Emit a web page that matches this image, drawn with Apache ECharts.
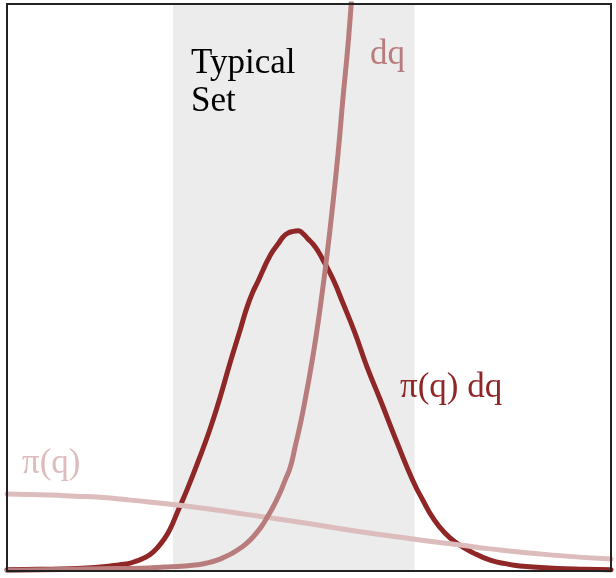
<!DOCTYPE html>
<html>
<head>
<meta charset="utf-8">
<script src="https://cdn.jsdelivr.net/npm/echarts@6/dist/echarts.min.js"></script>
<style>
html,body{margin:0;padding:0;background:#fff;}
#chart{width:616px;height:578px;}
</style>
</head>
<body>
<div id="chart"></div>
<script>
// q positions (arbitrary units 0..100) and densities (arbitrary units 0..100)
var piQ      = [0, 7.1, 11.3, 15.4, 20.4, 28.6, 40.2, 48.5, 56.8, 67.5, 75.0, 80.0, 90.4, 100];
var piVals   = [13.6, 13.4, 13.2, 13.0, 12.5, 11.6, 9.9, 8.6, 7.2, 5.6, 4.6, 3.9, 2.8, 2.1];

var dqQ      = [0, 15.4, 22.0, 26.2, 29.5, 31.5, 33.1, 34.8, 36.1, 37.4, 38.6, 39.7, 40.9, 42.1, 43.2, 44.2, 45.2, 46.0, 46.9, 47.7, 48.7, 49.5, 50.2, 51.2, 52.2, 53.0, 53.8, 54.8, 55.6, 56.5, 57.1];
var dqVals   = [0.1, 0.4, 0.5, 0.7, 0.9, 1.1, 1.4, 1.9, 2.5, 3.2, 4.0, 4.9, 6.2, 7.8, 9.7, 11.6, 13.8, 15.9, 18.3, 21.9, 26.6, 31.0, 35.1, 41.6, 49.2, 55.9, 63.3, 73.5, 83.1, 93.3, 101.8];

var prodQ    = [0, 5.5, 10.4, 15.4, 17.1, 18.7, 20.4, 21.5, 22.5, 23.7, 24.8, 26.0, 27.0, 28.3, 29.8, 31.6, 33.6, 35.3, 36.9, 38.6, 39.7, 40.7, 41.6, 42.4, 43.2, 44.0, 44.9, 45.7, 46.5, 47.4, 48.2, 49.0, 49.8, 50.7, 51.5, 52.3, 54.0, 55.6, 57.6, 59.6, 61.8, 64.6, 67.2, 68.9, 70.5, 72.5, 74.5, 77.2, 80.0, 82.5, 84.9, 90.4, 95.7, 100];
var prodVals = [0.2, 0.3, 0.4, 0.7, 0.9, 1.1, 1.4, 1.8, 2.2, 2.9, 4.0, 5.6, 7.4, 10.6, 14.3, 19.2, 25.0, 30.7, 36.6, 42.5, 46.4, 49.2, 51.2, 53.1, 54.9, 56.4, 57.7, 58.9, 59.6, 59.9, 60.0, 59.5, 58.6, 57.6, 56.4, 54.9, 51.4, 47.3, 42.0, 36.0, 30.2, 22.6, 15.9, 12.4, 9.4, 6.7, 4.9, 3.2, 1.9, 1.3, 0.9, 0.5, 0.3, 0.2];

var typicalSet = [27.5, 67.5];

var labels = {
  typical: "Typical",
  set: "Set",
  dq: "dq",
  prod: "\u03c0(q) dq",
  pi: "\u03c0(q)"
};

var C_LIGHT = '#DCBCBC', C_MID = '#B97C7C', C_DARK = '#8F2727';
var FAMILY = '"Liberation Serif", "Times New Roman", Times, serif';

function zip(xs, ys){ return xs.map(function(x,i){ return [x, ys[i]]; }); }

var chart = echarts.init(document.getElementById('chart'), null, {renderer:'canvas'});
var hiddenAxis = {
  type:'value', min:0, max:100,
  axisLine:{show:false}, axisTick:{show:false}, axisLabel:{show:false}, splitLine:{show:false}
};
function txt(left, top, text, color){
  return {type:'text', left:left, top:top, z:20,
    style:{text:text, fill:color, fontFamily:FAMILY, fontSize:35, lineHeight:38}};
}
chart.setOption({
  backgroundColor:'#ffffff',
  animation:false,
  grid:{left:7, right:5, top:4, bottom:7, show:true, borderColor:'#222', borderWidth:2, backgroundColor:'transparent', z:10},
  xAxis: hiddenAxis,
  yAxis: Object.assign({}, hiddenAxis),
  series:[
    {
      type:'line', name:'band', data:[], silent:true,
      markArea:{silent:true, itemStyle:{color:'#ECECEC'}, data:[[{xAxis:typicalSet[0]},{xAxis:typicalSet[1]}]]}
    },
    {
      type:'line', name:'prod', data:zip(prodQ, prodVals), smooth:0.5, showSymbol:false,
      lineStyle:{color:C_DARK, width:5, cap:'round', join:'round'}, z:3
    },
    {
      type:'line', name:'pi', data:zip(piQ, piVals), smooth:0.5, showSymbol:false,
      lineStyle:{color:C_LIGHT, width:5, cap:'round', join:'round'}, z:4
    },
    {
      type:'line', name:'dq', data:zip(dqQ, dqVals), smooth:0.5, showSymbol:false,
      lineStyle:{color:C_MID, width:5, cap:'round', join:'round'}, z:5
    }
  ],
  graphic:[
    txt(191, 45, labels.typical, '#000'),
    txt(191, 83, labels.set, '#000'),
    txt(370, 36, labels.dq, C_MID),
    txt(400, 369, labels.prod, C_DARK),
    txt(22, 445, labels.pi, C_LIGHT)
  ]
});
</script>
</body>
</html>
